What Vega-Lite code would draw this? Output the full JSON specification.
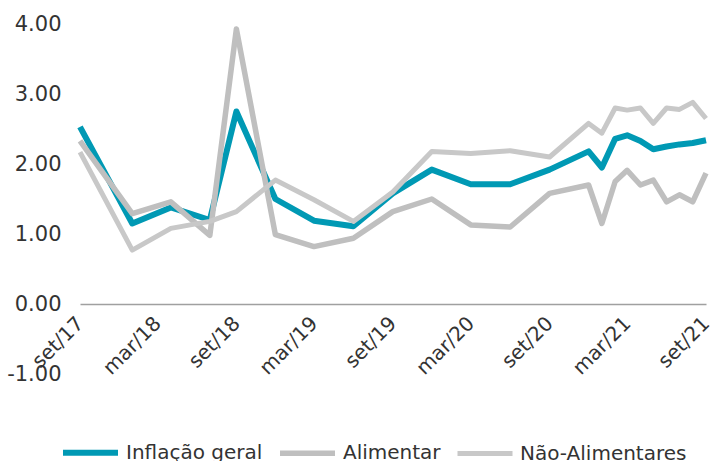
{
  "$schema": "https://vega.github.io/schema/vega-lite/v6.json",
  "autosize": "none",
  "width": 626,
  "height": 350,
  "padding": {"left": 80, "top": 24, "right": 5, "bottom": 87},
  "background": "white",
  "config": {
    "view": {"stroke": null},
    "font": "DejaVu Sans"
  },
  "data": {
    "values": [
      {"date": "2017-09-01", "serie": "Inflação geral", "valor": 2.53},
      {"date": "2018-01-01", "serie": "Inflação geral", "valor": 1.15},
      {"date": "2018-04-01", "serie": "Inflação geral", "valor": 1.38},
      {"date": "2018-07-01", "serie": "Inflação geral", "valor": 1.2},
      {"date": "2018-09-01", "serie": "Inflação geral", "valor": 2.75},
      {"date": "2018-12-01", "serie": "Inflação geral", "valor": 1.5},
      {"date": "2019-03-01", "serie": "Inflação geral", "valor": 1.19},
      {"date": "2019-06-01", "serie": "Inflação geral", "valor": 1.11},
      {"date": "2019-09-01", "serie": "Inflação geral", "valor": 1.58},
      {"date": "2019-12-01", "serie": "Inflação geral", "valor": 1.92},
      {"date": "2020-03-01", "serie": "Inflação geral", "valor": 1.71},
      {"date": "2020-06-01", "serie": "Inflação geral", "valor": 1.71},
      {"date": "2020-09-01", "serie": "Inflação geral", "valor": 1.92},
      {"date": "2020-12-01", "serie": "Inflação geral", "valor": 2.18},
      {"date": "2021-01-01", "serie": "Inflação geral", "valor": 1.95},
      {"date": "2021-02-01", "serie": "Inflação geral", "valor": 2.36},
      {"date": "2021-03-01", "serie": "Inflação geral", "valor": 2.41},
      {"date": "2021-04-01", "serie": "Inflação geral", "valor": 2.33},
      {"date": "2021-05-01", "serie": "Inflação geral", "valor": 2.21},
      {"date": "2021-06-01", "serie": "Inflação geral", "valor": 2.25},
      {"date": "2021-07-01", "serie": "Inflação geral", "valor": 2.28},
      {"date": "2021-08-01", "serie": "Inflação geral", "valor": 2.3},
      {"date": "2021-09-01", "serie": "Inflação geral", "valor": 2.34},

      {"date": "2017-09-01", "serie": "Alimentar", "valor": 2.33},
      {"date": "2018-01-01", "serie": "Alimentar", "valor": 1.29},
      {"date": "2018-04-01", "serie": "Alimentar", "valor": 1.46},
      {"date": "2018-07-01", "serie": "Alimentar", "valor": 0.98},
      {"date": "2018-09-01", "serie": "Alimentar", "valor": 3.93},
      {"date": "2018-12-01", "serie": "Alimentar", "valor": 0.99},
      {"date": "2019-03-01", "serie": "Alimentar", "valor": 0.82},
      {"date": "2019-06-01", "serie": "Alimentar", "valor": 0.94},
      {"date": "2019-09-01", "serie": "Alimentar", "valor": 1.32},
      {"date": "2019-12-01", "serie": "Alimentar", "valor": 1.5},
      {"date": "2020-03-01", "serie": "Alimentar", "valor": 1.13},
      {"date": "2020-06-01", "serie": "Alimentar", "valor": 1.1},
      {"date": "2020-09-01", "serie": "Alimentar", "valor": 1.58},
      {"date": "2020-12-01", "serie": "Alimentar", "valor": 1.7},
      {"date": "2021-01-01", "serie": "Alimentar", "valor": 1.15},
      {"date": "2021-02-01", "serie": "Alimentar", "valor": 1.75},
      {"date": "2021-03-01", "serie": "Alimentar", "valor": 1.91},
      {"date": "2021-04-01", "serie": "Alimentar", "valor": 1.7},
      {"date": "2021-05-01", "serie": "Alimentar", "valor": 1.77},
      {"date": "2021-06-01", "serie": "Alimentar", "valor": 1.46},
      {"date": "2021-07-01", "serie": "Alimentar", "valor": 1.56},
      {"date": "2021-08-01", "serie": "Alimentar", "valor": 1.46},
      {"date": "2021-09-01", "serie": "Alimentar", "valor": 1.87},

      {"date": "2017-09-01", "serie": "Não-Alimentares", "valor": 2.17},
      {"date": "2018-01-01", "serie": "Não-Alimentares", "valor": 0.77},
      {"date": "2018-04-01", "serie": "Não-Alimentares", "valor": 1.08},
      {"date": "2018-07-01", "serie": "Não-Alimentares", "valor": 1.18},
      {"date": "2018-09-01", "serie": "Não-Alimentares", "valor": 1.32},
      {"date": "2018-12-01", "serie": "Não-Alimentares", "valor": 1.77},
      {"date": "2019-03-01", "serie": "Não-Alimentares", "valor": 1.49},
      {"date": "2019-06-01", "serie": "Não-Alimentares", "valor": 1.18},
      {"date": "2019-09-01", "serie": "Não-Alimentares", "valor": 1.6},
      {"date": "2019-12-01", "serie": "Não-Alimentares", "valor": 2.18},
      {"date": "2020-03-01", "serie": "Não-Alimentares", "valor": 2.15},
      {"date": "2020-06-01", "serie": "Não-Alimentares", "valor": 2.19},
      {"date": "2020-09-01", "serie": "Não-Alimentares", "valor": 2.1},
      {"date": "2020-12-01", "serie": "Não-Alimentares", "valor": 2.58},
      {"date": "2021-01-01", "serie": "Não-Alimentares", "valor": 2.44},
      {"date": "2021-02-01", "serie": "Não-Alimentares", "valor": 2.8},
      {"date": "2021-03-01", "serie": "Não-Alimentares", "valor": 2.77},
      {"date": "2021-04-01", "serie": "Não-Alimentares", "valor": 2.8},
      {"date": "2021-05-01", "serie": "Não-Alimentares", "valor": 2.58},
      {"date": "2021-06-01", "serie": "Não-Alimentares", "valor": 2.8},
      {"date": "2021-07-01", "serie": "Não-Alimentares", "valor": 2.78},
      {"date": "2021-08-01", "serie": "Não-Alimentares", "valor": 2.88},
      {"date": "2021-09-01", "serie": "Não-Alimentares", "valor": 2.65}
    ]
  },
  "mark": {"type": "line", "strokeJoin": "round", "strokeCap": "butt"},
  "encoding": {
    "x": {
      "field": "date",
      "type": "temporal",
      "scale": {
        "type": "utc",
        "domain": [
          {"year": 2017, "month": 9, "date": 1, "utc": true},
          {"year": 2021, "month": 9, "date": 1, "utc": true}
        ]
      },
      "axis": {
        "title": null,
        "offset": -70,
        "values": [
          {"year": 2017, "month": 9, "date": 1, "utc": true},
          {"year": 2018, "month": 3, "date": 1, "utc": true},
          {"year": 2018, "month": 9, "date": 1, "utc": true},
          {"year": 2019, "month": 3, "date": 1, "utc": true},
          {"year": 2019, "month": 9, "date": 1, "utc": true},
          {"year": 2020, "month": 3, "date": 1, "utc": true},
          {"year": 2020, "month": 9, "date": 1, "utc": true},
          {"year": 2021, "month": 3, "date": 1, "utc": true},
          {"year": 2021, "month": 9, "date": 1, "utc": true}
        ],
        "labelExpr": "(utcFormat(datum.value, '%m') == '03' ? 'mar/' : 'set/') + utcFormat(datum.value, '%y')",
        "labelAngle": -45,
        "labelAlign": "right",
        "labelBaseline": "middle",
        "labelFontSize": 20,
        "labelColor": "#333333",
        "labelPadding": 16,
        "labelFlush": false,
        "labelOverlap": false,
        "labelBound": false,
        "ticks": false,
        "grid": false,
        "domainColor": "#A0A0A0",
        "domainWidth": 1.5
      }
    },
    "y": {
      "field": "valor",
      "type": "quantitative",
      "scale": {"domain": [-1, 4], "nice": false, "zero": false},
      "axis": {
        "title": null,
        "values": [-1, 0, 1, 2, 3, 4],
        "labelExpr": "replace(format(datum.value, '.2f'), '\u2212', '-')",
        "labelFontSize": 21,
        "labelColor": "#333333",
        "labelPadding": 19,
        "ticks": false,
        "domain": false,
        "grid": false
      }
    },
    "color": {
      "field": "serie",
      "type": "nominal",
      "sort": ["Inflação geral", "Alimentar", "Não-Alimentares"],
      "scale": {
        "domain": ["Inflação geral", "Alimentar", "Não-Alimentares"],
        "range": ["#0099B4", "#BFBFBF", "#C8C8C8"]
      },
      "legend": {
        "title": null,
        "orient": "none",
        "direction": "horizontal",
        "legendX": -20,
        "legendY": 398,
        "symbolType": "stroke",
        "symbolSize": 3025,
        "symbolStrokeWidth": 6,
        "labelFontSize": 20,
        "labelColor": "#333333",
        "labelOffset": 5,
        "labelLimit": 400,
        "columnPadding": 6,
        "padding": 0
      }
    },
    "strokeWidth": {
      "field": "serie",
      "type": "nominal",
      "scale": {
        "domain": ["Inflação geral", "Alimentar", "Não-Alimentares"],
        "range": [6, 5, 5]
      },
      "legend": null
    },
    "order": {"field": "serie", "sort": "ascending"}
  }
}
